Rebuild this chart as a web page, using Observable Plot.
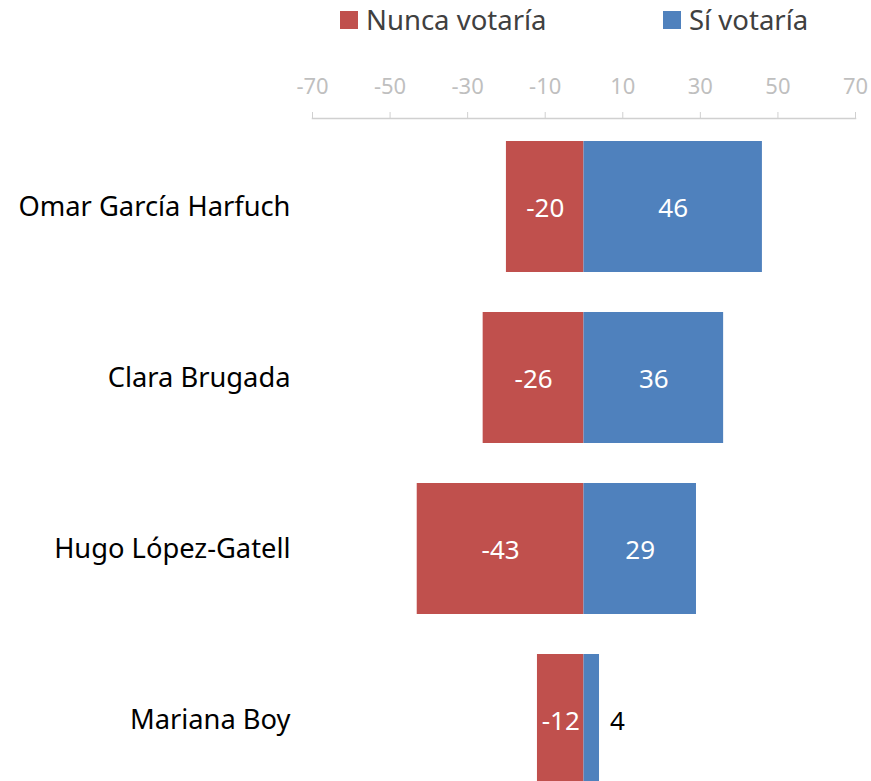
<!DOCTYPE html>
<html>
<head>
<meta charset="utf-8">
<script src="https://cdn.jsdelivr.net/npm/d3@7"></script>
<script src="https://cdn.jsdelivr.net/npm/@observablehq/plot@0.6"></script>
<style>
  body { margin: 0; background: #fff; font-family: "Noto Sans", "Open Sans", sans-serif; }
  #legend { position: relative; height: 50px; width: 871px; }
  .item { position: absolute; top: 1px; display: flex; align-items: center; font-size: 27.5px; color: #404040; }
  .sw { width: 18px; height: 18px; margin-right: 8px; }
</style>
</head>
<body>
<div id="legend"></div>
<div id="chart"></div>
<script>
const candidates = ["Omar García Harfuch", "Clara Brugada", "Hugo López-Gatell", "Mariana Boy"];
const nunca = [-20, -26, -43, -12];
const si = [46, 36, 29, 4];
const seriesNames = ["Nunca votaría", "Sí votaría"];
const seriesColors = ["#C0504D", "#4F81BD"];
const xTicks = [-70, -50, -30, -10, 10, 30, 50, 70];

const rows = [];
candidates.forEach((c, i) => {
  rows.push({candidate: c, series: seriesNames[0], value: nunca[i]});
  rows.push({candidate: c, series: seriesNames[1], value: si[i]});
});
const inside = rows.filter(d => Math.abs(d.value) >= 8);
const outside = rows.filter(d => Math.abs(d.value) < 8);

// legend
const legend = document.getElementById("legend");
const legendX = [340, 663];
seriesNames.forEach((s, i) => {
  const el = document.createElement("div");
  el.className = "item";
  el.style.left = legendX[i] + "px";
  el.innerHTML = `<div class="sw" style="background:${seriesColors[i]}"></div><span>${s}</span>`;
  legend.appendChild(el);
});

const chart = Plot.plot({
  width: 871,
  height: 755,
  marginTop: 68,
  marginBottom: 0,
  marginLeft: 312,
  marginRight: 16,
  insetTop: 3,
  style: {fontFamily: "'Noto Sans', 'Open Sans', sans-serif"},
  x: {domain: [-70, 70]},
  y: {domain: candidates, paddingInner: 0.234, paddingOuter: 0.117},
  color: {domain: seriesNames, range: seriesColors},
  marks: [
    Plot.barX(rows, {y: "candidate", x: "value", fill: "series"}),
    Plot.text(inside, {y: "candidate", x: d => d.value / 2, text: d => String(d.value), fill: "white", fontSize: 26, dy: 2}),
    Plot.text(outside, {y: "candidate", x: "value", text: d => String(d.value), fill: "black", fontSize: 26, dx: 18, dy: 2}),
    Plot.frame({anchor: "top", stroke: "#d0d0d0", strokeWidth: 1.5}),
    Plot.axisX({anchor: "top", ticks: xTicks, tickSize: 7, tickPadding: 18, fontSize: 22, color: "#bfbfbf", stroke: "#d0d0d0", label: null, tickFormat: d => String(d)}),
    Plot.axisY({anchor: "left", tickSize: 0, tickPadding: 22, fontSize: 27.3, color: "#000", label: null})
  ]
});
document.getElementById("chart").appendChild(chart);
</script>
</body>
</html>
